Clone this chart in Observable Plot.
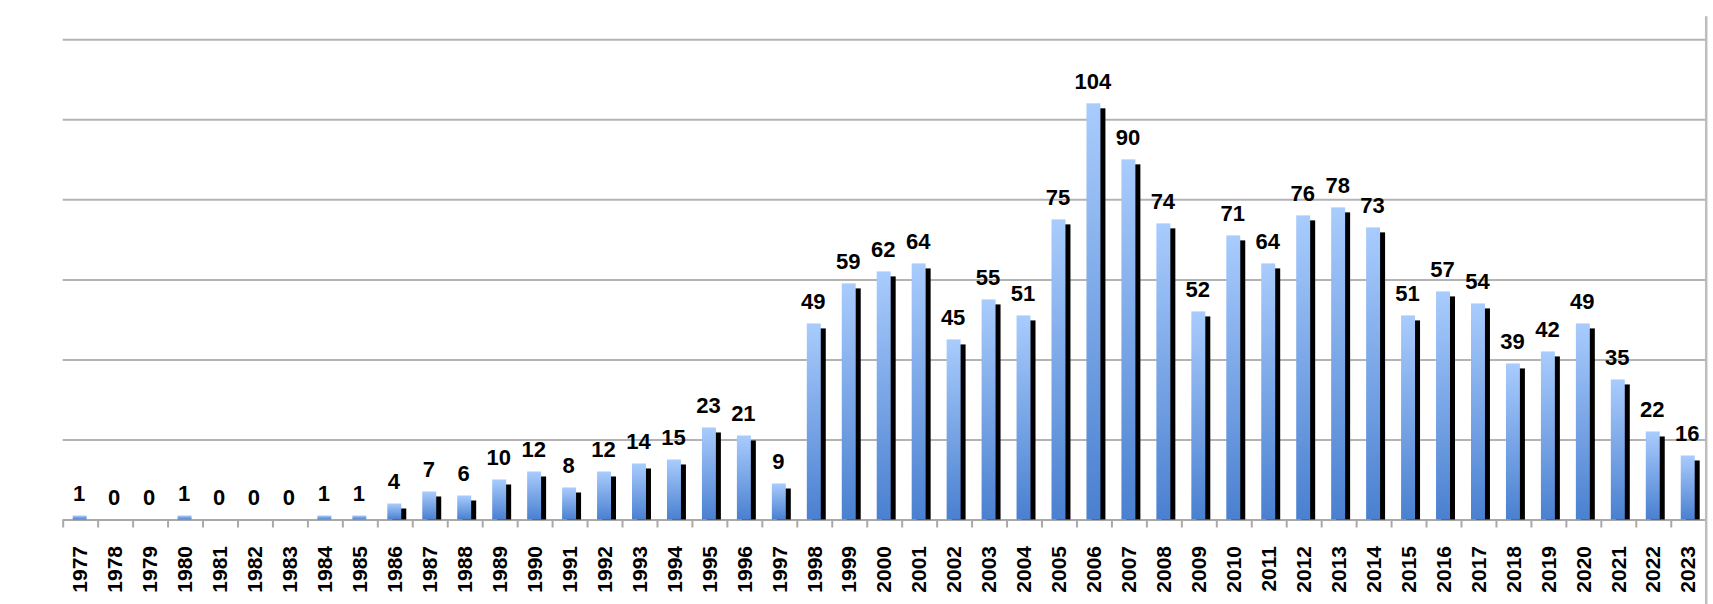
<!DOCTYPE html>
<html><head><meta charset="utf-8">
<script src="https://cdn.jsdelivr.net/npm/d3@7"></script>
<script src="https://cdn.jsdelivr.net/npm/@observablehq/plot@0.6"></script>
<style>body{margin:0;background:#fff}</style>
</head><body><div id="chart"></div>
<script>
const years = [1977,1978,1979,1980,1981,1982,1983,1984,1985,1986,1987,1988,1989,1990,1991,1992,1993,1994,1995,1996,1997,1998,1999,2000,2001,2002,2003,2004,2005,2006,2007,2008,2009,2010,2011,2012,2013,2014,2015,2016,2017,2018,2019,2020,2021,2022,2023];
const values = [1,0,0,1,0,0,0,1,1,4,7,6,10,12,8,12,14,15,23,21,9,49,59,62,64,45,55,51,75,104,90,74,52,71,64,76,78,73,51,57,54,39,42,49,35,22,16];
const gridValues = [20,40,60,80,100,120];
const yearLabels = years.map(String);

const data = years.map((y, i) => ({year: String(y), value: values[i]}));

const W = 1713, H = 604, ML = 62.7, MR = 7.3, MT = 39.3, MB = 84.5;
const bw = (W - ML - MR) / years.length;
const font = "'Liberation Sans', Arial, sans-serif";

const plot = Plot.plot({
  width: W, height: H,
  marginLeft: ML, marginRight: MR, marginTop: MT, marginBottom: MB,
  style: {background: "#fff", fontFamily: font},
  x: {type: "band", domain: yearLabels, padding: 0, axis: null},
  y: {domain: [0, 120], axis: null},
  marks: [
    Plot.ruleY(gridValues, {stroke: "#b3b3b3", strokeWidth: 2}),
    Plot.ruleY([0], {stroke: "#a9a9a9", strokeWidth: 2}),
    Plot.ruleX(yearLabels, {x: d => d, y1: () => 0, y2: () => 0, insetTop: 8, dx: -bw / 2, stroke: "#a9a9a9", strokeWidth: 2}),
    Plot.ruleX([yearLabels[yearLabels.length - 1]], {x: d => d, dx: bw / 2, insetTop: -23, insetBottom: -MB, stroke: "#bdbdbd", strokeWidth: 2.5}),
    Plot.rectY(data, {x: "year", y: "value", fill: "#000", dx: 5, dy: 5, insetLeft: 10, insetRight: 11, clip: "frame"}),
    Plot.rectY(data, {x: "year", y: "value", fill: "url(#barGrad)", insetLeft: 10, insetRight: 11}),
    Plot.text(data, {x: "year", y: "value", text: d => String(d.value), dy: -15, dx: -1.5, lineAnchor: "bottom", fontSize: 22, fontWeight: "bold", fill: "#000"}),
    Plot.axisX({tickSize: 0, tickPadding: 26, tickRotate: -90, textAnchor: "end", lineAnchor: "middle", fontSize: 21, fontWeight: "bold", color: "#000", fill: "#000", label: null})
  ]
});

const svgNS = "http://www.w3.org/2000/svg";
const defs = document.createElementNS(svgNS, "defs");
defs.innerHTML = '<linearGradient id="barGrad" x1="0" y1="0" x2="0" y2="1"><stop offset="0" stop-color="#a9ccfd"/><stop offset="1" stop-color="#4a80d0"/></linearGradient>';
plot.insertBefore(defs, plot.firstChild);
document.getElementById("chart").appendChild(plot);
</script>
</body></html>
